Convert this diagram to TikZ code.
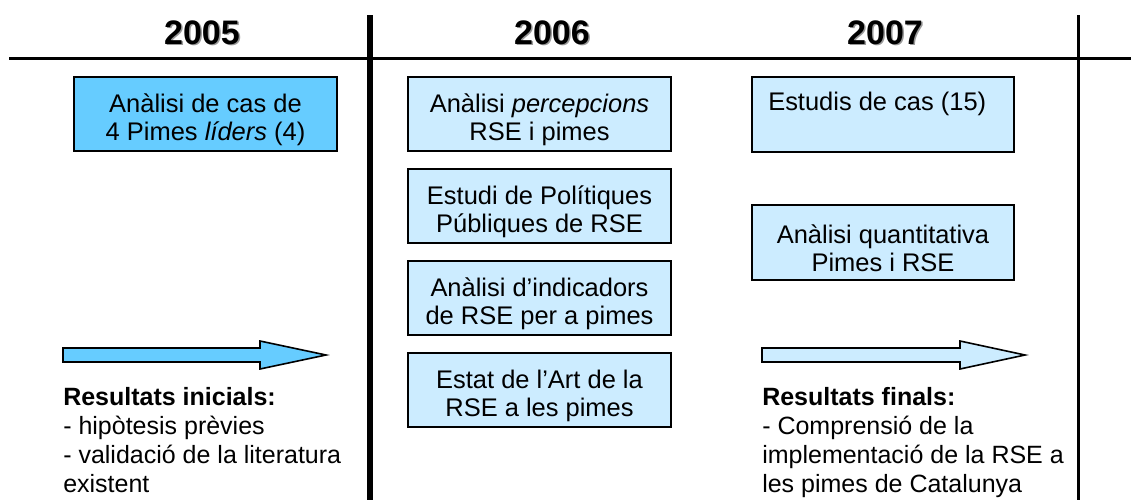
\documentclass[tikz,border=0pt]{standalone}
\usepackage{fontspec}
\setmainfont{Liberation Sans}
\definecolor{bright}{HTML}{66CCFF}
\definecolor{pale}{HTML}{CCECFF}
\definecolor{shade}{HTML}{9A9A9A}
\newcommand{\topstrut}{\rule{0pt}{23pt}}
\begin{document}
\begin{tikzpicture}[x=0.75pt,y=-0.75pt,
  year/.style={font=\fontsize{25.5pt}{30pt}\selectfont\bfseries, inner sep=0pt},
  boxbase/.style={draw=black, line width=1.2pt, minimum width=197pt, minimum height=55.5pt,
    inner sep=0pt, align=center, font=\fontsize{19.1pt}{20.8pt}\selectfont},
  brightbox/.style={boxbase, fill=bright},
  palebox/.style={boxbase, fill=pale},
  restext/.style={align=left, inner sep=0pt, anchor=north west, font=\fontsize{18.75pt}{21.75pt}\selectfont},
  rule/.style={line width=1.2pt, black},
  shadowline/.style={line width=1.2pt, shade},
  arrowshape/.style={draw=black, line width=1.2pt, line join=miter}
]
\useasboundingbox (0,0) rectangle (1131,500);

% rules
\draw[shadowline] (9,59.5) -- (1131,59.5);
\draw[rule] (9,58) -- (1131,58);
\draw[line width=4.5pt, black] (370,15) -- (370,500);
\draw[line width=2.2pt, black] (1078.5,15) -- (1078.5,500);

% years
\node[year, text=shade] at (203.5,34) {2005};
\node[year] (y1) at (202,32.5) {2005};
\node[year, text=shade] at (553.5,34) {2006};
\node[year] (y2) at (552,32.5) {2006};
\node[year, text=shade] at (886.5,34) {2007};
\node[year] (y3) at (885,32.5) {2007};

% 2005
\node[brightbox] (b1) at (205.5,114) {\topstrut Anàlisi de cas de\\4 Pimes \textit{líders} (4)};

% 2006
\node[palebox] (c1) at (539.5,114) {\topstrut Anàlisi \textit{percepcions}\\RSE i pimes};
\node[palebox] (c2) at (539.5,206) {\topstrut Estudi de Polítiques\\Públiques de RSE};
\node[palebox] (c3) at (539.5,298) {\topstrut Anàlisi d’indicadors\\de RSE per a pimes};
\node[palebox] (c4) at (539.5,390) {\topstrut Estat de l’Art de la\\RSE a les pimes};

% 2007
\node[palebox, minimum width=196.5pt, minimum height=56pt] (d1) at (883,114.5) {};
\node[anchor=base west, inner sep=0pt, font=\fontsize{19.1pt}{21pt}\selectfont] (d1t) at (768,110) {Estudis de cas (15)};
\node[palebox, minimum width=196.5pt, minimum height=56pt] (d2) at (883,242.5) {\topstrut Anàlisi quantitativa\\Pimes i RSE};

% arrows
\draw[arrowshape, fill=bright] (63,348) -- (260,348) -- (260,341) -- (326,355) -- (260,369) -- (260,362) -- (63,362) -- cycle;
\draw[arrowshape, fill=pale] (762,348) -- (960,348) -- (960,341) -- (1025,355) -- (960,369) -- (960,362) -- (762,362) -- cycle;

% results
\node[restext] (r1) at (63,387) {\textbf{Resultats inicials:}\\- hipòtesis prèvies\\- validació de la literatura\\existent};
\node[restext] (r2) at (762,387) {\textbf{Resultats finals:}\\- Comprensió de la\\implementació de la RSE a\\les pimes de Catalunya};
\end{tikzpicture}
\end{document}
